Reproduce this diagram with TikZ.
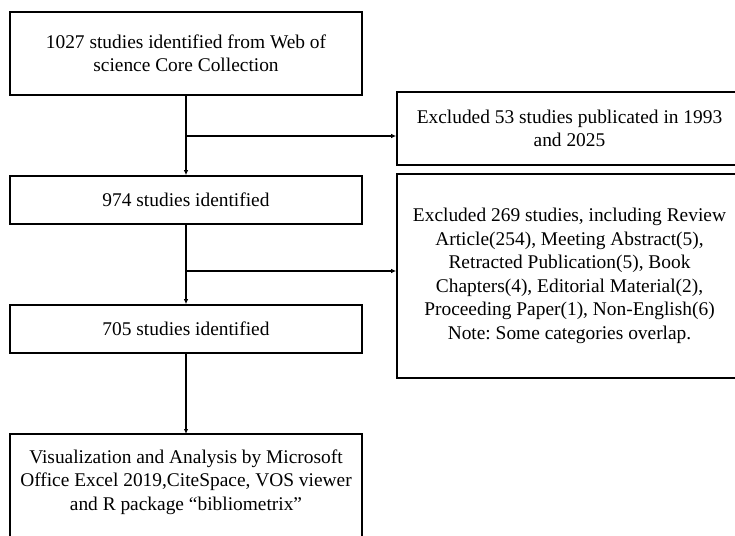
\documentclass[tikz,border=0pt]{standalone}
\usepackage{fontspec}
\setmainfont{Liberation Serif}
\usetikzlibrary{arrows.meta}
\frenchspacing
\begin{document}
\begin{tikzpicture}[x=1pt,y=-1pt,
  box/.style={draw=black,line width=1.6pt,rectangle,inner sep=0pt,align=center,
    font=\fontsize{19.4}{23.5}\selectfont},
  txt/.style={inner sep=0pt,align=center,font=\fontsize{19.4}{23.5}\selectfont},
  arr/.style={line width=1.2pt,-{Latex[length=5pt,width=4.5pt]}},
  ln/.style={line width=1.2pt}]
\useasboundingbox (0,0) rectangle (735,535);
\fill[white] (0,0) rectangle (735,535);
% left column
\node[box,minimum width=352pt,minimum height=83pt] (b1) at (186,53.5)
  {\raisebox{-2pt}{\parbox{345pt}{\centering 1027 studies identified from Web of\\science Core Collection}}};
\node[box,minimum width=352pt,minimum height=48pt] (b2) at (186,200)
  {974 studies identified};
\node[box,minimum width=352pt,minimum height=48pt] (b3) at (186,329)
  {705 studies identified};
\coordinate (b4top) at (186,434);
\draw[line width=1.6pt] (10,560) |- (362,434) -- (362,560);
\node[txt] (b4) at (186,482)
  {Visualization and Analysis by Microsoft\\Office Excel 2019,CiteSpace, VOS viewer\\and R package “bibliometrix”};
% right column
\node[box,minimum width=345pt,minimum height=73pt] (r1) at (569.5,128.5)
  {\raisebox{-4pt}{\parbox{340pt}{\centering Excluded 53 studies publicated in 1993\\and 2025}}};
\node[box,minimum width=345pt,minimum height=204pt] (r2) at (569.5,276)
  {\raisebox{1pt}{\parbox{340pt}{\centering Excluded 269 studies, including Review\\Article(254), Meeting Abstract(5),\\Retracted Publication(5), Book\\Chapters(4), Editorial Material(2),\\Proceeding Paper(1), Non-English(6)\\Note: Some categories overlap.}}};
% connectors
\draw[arr] (b1.south) -- (b2.north);
\draw[arr] (b2.south) -- (b3.north);
\draw[arr] (b3.south) -- (b4top);
\coordinate (j1) at (186,136);
\coordinate (j2) at (186,271);
\draw[arr] (j1) -- (j1 -| r1.west);
\draw[arr] (j2) -- (j2 -| r2.west);
\end{tikzpicture}
\end{document}
